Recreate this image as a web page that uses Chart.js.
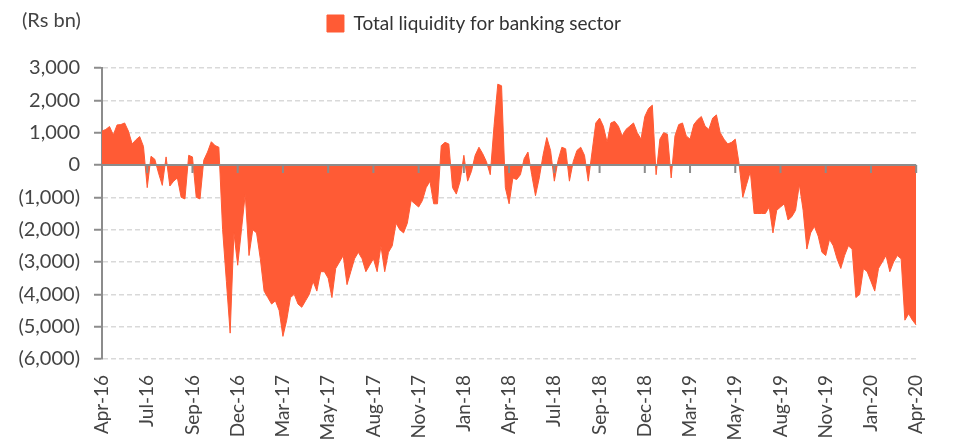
<!DOCTYPE html>
<html>
<head>
<meta charset="utf-8">
<script src="https://cdn.jsdelivr.net/npm/chart.js@4/dist/chart.umd.min.js"></script>
<style>
  body { margin: 0; background: #fff; }
  #wrap { width: 955px; height: 444px; }
</style>
</head>
<body>
<div id="wrap"><canvas id="myChart" width="955" height="444"></canvas></div>
<script>
// tick labels, one every 12 readings
const tickLabels = ['Apr-16','Jul-16','Sep-16','Dec-16','Mar-17','May-17','Aug-17','Nov-17','Jan-18','Apr-18',
                    'Jul-18','Sep-18','Dec-18','Mar-19','May-19','Aug-19','Nov-19','Jan-20','Apr-20'];
const tickEvery = 12;

// Total liquidity for banking sector (Rs bn)
const liquidity = [
  1050, 1100, 1190, 930, 1240, 1250, 1300, 1050, 650, 780, 880, 575,
  -700, 270, 180, -250, -630, 250, -650, -500, -400, -1000, -1050, 300,
  250, -1000, -1050, 150, 400, 720, 600, 550, -2000, -3600, -5200, -2100,
  -3100, -2000, -900, -2800, -2000, -2100, -2900, -3900, -4100, -4300, -4200, -4500,
  -5300, -4800, -4100, -4000, -4300, -4400, -4200, -4000, -3600, -3900, -3300, -3300,
  -3500, -4100, -3200, -3000, -2800, -3700, -3300, -2900, -2700, -2900, -3300, -3100,
  -2900, -3300, -2500, -3300, -2700, -2500, -1800, -2000, -2100, -1800, -1100, -1200,
  -1300, -1100, -700, -500, -1200, -1200, 600, 700, 650, -700, -900, -500,
  300, -500, -200, 300, 550, 350, 100, -300, 1200, 2500, 2450, -700,
  -1200, -400, -450, -300, 200, 400, -300, -950, -400, 300, 850, 450,
  -500, 150, 550, 500, -500, 100, 450, 550, 300, -500, 400, 1300,
  1450, 1200, 700, 1300, 1350, 1200, 900, 1100, 1200, 1300, 1000, 800,
  1500, 1750, 1850, -300, 800, 1000, 950, -400, 900, 1250, 1300, 900,
  800, 1250, 1400, 1500, 1200, 1100, 1450, 1550, 1000, 800, 650, 700,
  800, 50, -1000, -600, -200, -1500, -1500, -1500, -1500, -1300, -2100, -1400,
  -1300, -1200, -1700, -1600, -1400, -600, -1400, -2600, -2100, -1900, -2200, -2700,
  -2800, -2300, -2500, -2900, -3200, -2800, -2500, -2600, -4100, -4000, -3200, -3300,
  -3600, -3900, -3200, -3000, -2800, -3300, -3000, -2800, -2900, -4800, -4600, -4800,
  -4950
];

const labels = liquidity.map((v, i) => i % tickEvery === 0 ? tickLabels[i / tickEvery] : '');
const orange = '#ff5b35';
const fontFamily = 'Lato, "Open Sans", sans-serif';

const zeroLine = {
  id: 'zeroLine',
  beforeLayout(chart) {
    // leave a gap between the legend and the plot
    const lg = chart.legend;
    if (lg && !lg._gap) {
      const fit = lg.fit;
      lg.fit = function () { fit.call(this); this.height += 25; };
      lg._gap = true;
    }
  },
  afterLayout(chart) {
    // nudge legend a little right, like the original
    if (chart.legend) {
      chart.legend.left += 7;
      chart.legend.right += 7;
    }
  },
  afterDatasetsDraw(chart) {
    const { ctx, chartArea, scales: { x, y } } = chart;
    const y0 = y.getPixelForValue(0);
    ctx.save();
    ctx.strokeStyle = '#8c8c8c';
    ctx.lineWidth = 2;
    ctx.beginPath();
    ctx.moveTo(chartArea.left, y0);
    ctx.lineTo(chartArea.right, y0);
    for (let i = 0; i < liquidity.length; i += tickEvery) {
      const px = x.getPixelForValue(i);
      ctx.moveTo(px, y0);
      ctx.lineTo(px, y0 + 8);
    }
    ctx.stroke();
    ctx.restore();
  },
  afterDraw(chart) {
    const ctx = chart.ctx;
    ctx.save();
    ctx.font = '20px ' + fontFamily;
    ctx.fillStyle = '#444';
    ctx.textBaseline = 'middle';
    ctx.fillText('(Rs bn)', 22, 21);
    ctx.restore();
  }
};

new Chart(document.getElementById('myChart'), {
  type: 'line',
  data: {
    labels: labels,
    datasets: [{
      label: 'Total liquidity for banking sector',
      data: liquidity,
      borderColor: orange,
      backgroundColor: orange,
      borderWidth: 1,
      pointRadius: 0,
      tension: 0,
      fill: 'origin'
    }]
  },
  options: {
    responsive: false,
    animation: false,
    devicePixelRatio: 1,
    layout: { padding: { left: 12, right: 33, top: 4, bottom: 0 } },
    plugins: {
      legend: {
        labels: {
          boxWidth: 17, boxHeight: 17, padding: 10,
          color: '#333',
          font: { size: 19, family: fontFamily }
        }
      },
      tooltip: { enabled: false }
    },
    scales: {
      x: {
        grid: { display: false, drawTicks: false },
        border: { display: false },
        ticks: {
          autoSkip: false, minRotation: 90, maxRotation: 90, padding: 16,
          color: '#444', font: { size: 19, family: fontFamily }
        },
        afterFit: s => { s.height = 85; }
      },
      y: {
        min: -6000, max: 3000,
        ticks: {
          stepSize: 1000, padding: 14, color: '#444',
          font: { size: 20, family: fontFamily },
          callback: v => v < 0 ? '(' + Math.abs(v).toLocaleString('en-US') + ')' : v.toLocaleString('en-US')
        },
        grid: {
          color: c => c.tick && c.tick.value === 0 ? 'rgba(0,0,0,0)' : '#d9d9d9',
          lineWidth: 1.5,
          tickLength: 8, tickColor: '#8c8c8c', tickWidth: 2, tickBorderDash: []
        },
        border: { color: '#8c8c8c', width: 2, dash: [5, 3] },
        afterFit: s => { s.width = 90; }
      }
    }
  },
  plugins: [zeroLine]
});
</script>
</body>
</html>
